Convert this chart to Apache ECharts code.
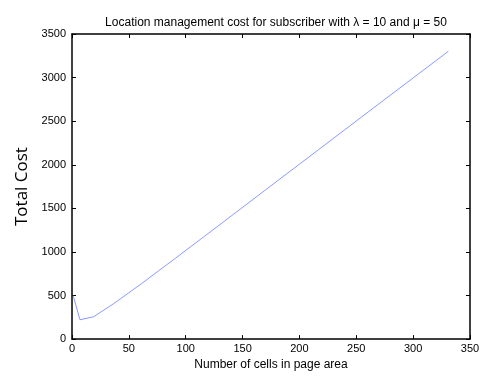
<!DOCTYPE html>
<html>
<head>
<meta charset="utf-8">
<script src="https://cdn.jsdelivr.net/npm/echarts@6/dist/echarts.min.js"></script>
<style>html,body{margin:0;padding:0;background:#fff;}#c{width:485px;height:376px;}</style>
</head>
<body>
<div id="c"></div>
<script>
const cells = [1, 7, 19, 37, 61, 91, 127, 169, 217, 271, 331];
const totalCost = [500, 222, 256, 410, 635, 928, 1283, 1700, 2175, 2710, 3302];
const titleText = 'Location management cost for subscriber with \u03bb = 10 and \u03bc = 50';
const xName = 'Number of cells in page area';
const yName = 'Total Cost';

const chart = echarts.init(document.getElementById('c'), null, {renderer: 'canvas'});
const font = 'Liberation Sans';
const axisCommon = () => ({
  axisLine: {show: true, onZero: false, lineStyle: {color: '#000', width: 1.5}},
  axisTick: {show: true, inside: true, length: 4, lineStyle: {color: '#000', width: 1}},
  splitLine: {show: false}
});
const fmt = v => String(v);
chart.setOption({
  animation: false,
  title: {
    text: titleText, left: 271, top: 12, textAlign: 'center',
    textStyle: {fontFamily: font, fontSize: 12, fontWeight: 'normal', color: '#000'}
  },
  grid: {left: 72, right: 15, top: 34, bottom: 30.5, containLabel: false},
  xAxis: [
    Object.assign({
      type: 'value', min: 0, max: 350, interval: 50, position: 'bottom',
      name: xName, nameLocation: 'middle', nameGap: 19,
      nameTextStyle: {fontFamily: font, fontSize: 12, color: '#000'},
      axisLabel: {fontFamily: font, fontSize: 11, color: '#000', margin: 4, formatter: fmt}
    }, axisCommon()),
    Object.assign({
      type: 'value', min: 0, max: 350, interval: 50, position: 'top',
      axisLabel: {show: false}
    }, axisCommon())
  ],
  yAxis: [
    Object.assign({
      type: 'value', min: 0, max: 3500, interval: 500, position: 'left',
      name: yName, nameLocation: 'middle', nameGap: 34, nameRotate: 90,
      nameTextStyle: {fontFamily: 'Open Sans', fontSize: 17, color: '#000'},
      axisLabel: {fontFamily: font, fontSize: 11, color: '#000', margin: 6, formatter: fmt}
    }, axisCommon()),
    Object.assign({
      type: 'value', min: 0, max: 3500, interval: 500, position: 'right',
      axisLabel: {show: false}
    }, axisCommon())
  ],
  series: [{
    type: 'line',
    data: cells.map((c, i) => [c, totalCost[i]]),
    showSymbol: false,
    lineStyle: {color: '#6f7fff', width: 0.8},
    xAxisIndex: 0, yAxisIndex: 0
  }]
});
</script>
</body>
</html>
